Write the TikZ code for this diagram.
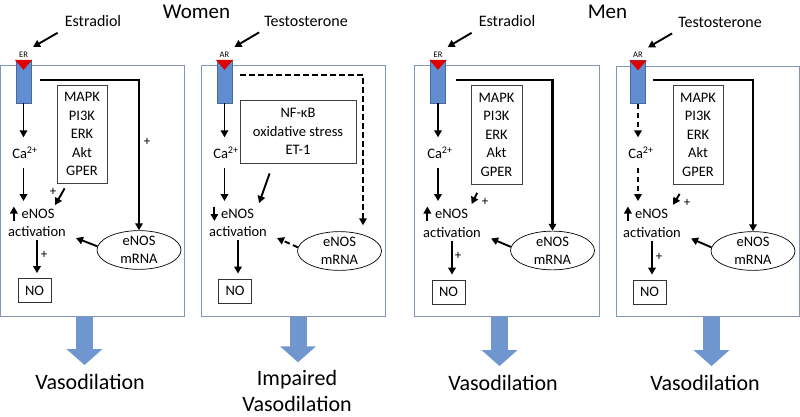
\documentclass[tikz,border=0pt]{standalone}
\usepackage{fontspec}
\setmainfont{Carlito}
\usetikzlibrary{arrows.meta,positioning,calc,shapes.geometric}

\definecolor{panelline}{RGB}{130,150,185}
\definecolor{arrowblue}{RGB}{112,150,208}
\definecolor{recblue}{RGB}{96,142,208}
\definecolor{recred}{RGB}{222,0,0}

\begin{document}
\begin{tikzpicture}[
    x=1pt, y=-1pt,
    panel/.style={rectangle, draw=panelline, line width=0.9pt, minimum width=184pt, minimum height=251pt, inner sep=0},
    receptor/.style={rectangle, draw=recblue!75!black, fill=recblue, line width=0.4pt, minimum width=15pt, minimum height=43pt, inner sep=0},
    txt/.style={inner sep=0, font=\fontsize{14.5}{18}\selectfont},
    hormone/.style={inner sep=0, font=\fontsize{16}{19}\selectfont},
    rname/.style={inner sep=0, font=\fontsize{8.5}{10}\selectfont},
    plus/.style={inner sep=0, font=\fontsize{13}{15}\selectfont},
    listbox/.style={rectangle, draw=black!75, line width=0.8pt, align=center, inner sep=0, font=\fontsize{14.5}{18.5}\selectfont},
    nobox/.style={rectangle, draw=black!80, line width=0.8pt, minimum width=33pt, minimum height=24pt, inner sep=0, font=\fontsize{14.5}{18}\selectfont},
    mrna/.style={ellipse, draw, line width=0.7pt, minimum width=84pt, minimum height=36pt, inner sep=0, align=center, font=\fontsize{14.5}{18}\selectfont},
    title/.style={inner sep=0, font=\fontsize{21}{24}\selectfont},
    result/.style={inner sep=0, align=center, font=\fontsize{22}{25.5}\selectfont},
    arrow/.style={line width=1.9pt, -{Triangle[length=7pt,width=7.5pt]}},
    dasharrow/.style={arrow, dash pattern=on 5.5pt off 3.5pt},
    pathline/.style={line width=2.3pt},
    bigarrow/.style={draw=arrowblue, line width=17pt, -{Triangle[length=16pt,width=35pt]}}
]
\useasboundingbox (0,0) rectangle (800,417);

% Titles
\node[title] (women) at (196.5,12) {Women};
\node[title] (men) at (607.5,12) {Men};

% Women - Estradiol
\node[panel] (w1box) at (92,190.5) {};
\node[receptor] (w1rec) at (23.5,81.5) {};
\fill[recred] ($(w1rec.north west)+(-1,0)$) -- ($(w1rec.north east)+(1,0)$) -- ($(w1rec.north)+(0,10)$) -- cycle;
\node[rname, above=2.5pt of w1rec] (w1er) {ER};
\node[hormone] (w1horm) at (93,21) {Estradiol};
\draw[arrow] ($(w1horm.south west)+(-7,6)$) -- ($(w1er.north east)+(5,-4.5)$);

\node[listbox, minimum width=50pt, minimum height=98pt] (w1mapk) at (82,134) {MAPK\\PI3K\\ERK\\Akt\\GPER};
\node[txt, inner ysep=9pt] (w1ca) at (25,152.5) {Ca\textsuperscript{2+}};
\node[txt, inner ysep=8pt] (w1enos) at (38,214) {eNOS};
\node[txt] (w1act) at (37,232) {activation};
\node[nobox] (w1no) at (34.5,290.5) {NO};
\node[mrna] (w1mrna) at (139,250) {eNOS\\mRNA};

\draw[arrow] (w1rec.south) -- (w1ca.north -| w1rec.south);
\draw[arrow] (w1ca.south -| w1rec.south) -- (w1enos.north -| w1rec.south);
\draw[arrow] ($(w1enos.west)+(-7.5,6.5)$) -- ++(0,-14);
\draw[arrow] ($(w1mapk.south west)+(8,5)$) -- ($(w1enos.north east)+(0.5,4)$);
\node[plus] (w1p2) at (53,192) {+};
\draw[arrow, shorten <=3pt, shorten >=5pt] (w1act.south) -- (w1no.north -| w1act.south);
\node[plus] (w1p3) at (44,255) {+};
\draw[arrow] (w1mrna.175) -- ($(w1act.east)+(10,6)$);
\draw[arrow, pathline] ($(w1rec.east)+(9,-1.5)$) -| (w1mrna.north);
\node[plus] (w1p1) at (147,142) {+};

\node[result] (w1res) at (90,382) {Vasodilation};
\coordinate (w1out) at (84.5,317);
\draw[bigarrow, shorten >=9pt] (w1out) -- (w1out |- w1res.north);

% Women - Testosterone
\node[panel] (w2box) at (293.5,190.5) {};
\node[receptor] (w2rec) at (224.5,81.5) {};
\fill[recred] ($(w2rec.north west)+(-1,0)$) -- ($(w2rec.north east)+(1,0)$) -- ($(w2rec.north)+(0,10)$) -- cycle;
\node[rname, above=2.5pt of w2rec] (w2ar) {AR};
\node[hormone] (w2horm) at (306,21) {Testosterone};
\draw[arrow] ($(w2horm.south west)+(-5,6)$) -- ($(w2ar.north east)+(5,-4.5)$);

\node[listbox, minimum width=116pt, minimum height=63pt] (w2nf) at (298,131.5) {NF-κB\\oxidative stress\\ET-1};
\node[txt, inner ysep=9pt] (w2ca) at (226,152.5) {Ca\textsuperscript{2+}};
\node[txt, inner ysep=8pt] (w2enos) at (237.5,214) {eNOS};
\node[txt] (w2act) at (238,232) {activation};
\node[nobox] (w2no) at (235,291) {NO};
\node[mrna] (w2mrna) at (339.5,251) {eNOS\\mRNA};

\draw[arrow] (w2rec.south) -- (w2ca.north -| w2rec.south);
\draw[arrow] (w2ca.south -| w2rec.south) -- (w2enos.north -| w2rec.south);
\draw[arrow] ($(w2enos.west)+(-6.5,-7)$) -- ++(0,14);
\draw[arrow] ($(w2nf.south west)+(30,10)$) -- ($(w2enos.north east)+(5,2)$);
\draw[arrow, shorten <=3pt, shorten >=5pt] (w2act.south) -- (w2no.north -| w2act.south);
\draw[dasharrow] (w2mrna.175) -- ($(w2act.east)+(10,6)$);
\draw[dasharrow, pathline] ($(w2rec.east)+(8,-6.5)$) -| ($(w2mrna.north)+(23.5,-6)$);

\node[result] (w2res) at (297,391) {Impaired\\Vasodilation};
\coordinate (w2out) at (298,317);
\draw[bigarrow, shorten >=8pt] (w2out) -- (w2out |- w2res.north);

% Men - Estradiol
\node[panel, minimum width=185pt] (m1box) at (506.5,190.5) {};
\node[receptor] (m1rec) at (438,81.5) {};
\fill[recred] ($(m1rec.north west)+(-1,0)$) -- ($(m1rec.north east)+(1,0)$) -- ($(m1rec.north)+(0,10)$) -- cycle;
\node[rname, above=2.5pt of m1rec] (m1er) {ER};
\node[hormone] (m1horm) at (507,21) {Estradiol};
\draw[arrow] ($(m1horm.south west)+(-7,6)$) -- ($(m1er.north east)+(5,-4.5)$);

\node[listbox, minimum width=51pt, minimum height=99pt] (m1mapk) at (496.5,134.5) {MAPK\\PI3K\\ERK\\Akt\\GPER};
\node[txt, inner ysep=9pt] (m1ca) at (440,152.5) {Ca\textsuperscript{2+}};
\node[txt, inner ysep=8pt] (m1enos) at (451.5,214) {eNOS};
\node[txt] (m1act) at (452,232.5) {activation};
\node[nobox] (m1no) at (448.5,292) {NO};
\node[mrna] (m1mrna) at (552.5,250.5) {eNOS\\mRNA};

\draw[arrow] (m1rec.south) -- (m1ca.north -| m1rec.south);
\draw[arrow] (m1ca.south -| m1rec.south) -- (m1enos.north -| m1rec.south);
\draw[arrow] ($(m1enos.west)+(-7.5,6.5)$) -- ++(0,-14);
\draw[arrow] ($(m1mapk.south west)+(6.5,8.5)$) -- ($(m1enos.north east)+(3.5,3)$);
\node[plus] (m1p2) at (485,202) {+};
\draw[arrow, shorten <=3pt, shorten >=5pt] (m1act.south) -- (m1no.north -| m1act.south);
\node[plus] (m1p3) at (458,256) {+};
\draw[arrow] (m1mrna.175) -- ($(m1act.east)+(10,6)$);
\draw[arrow, pathline] ($(m1rec.east)+(10,-1.5)$) -| (m1mrna.north);

\node[result] (m1res) at (503,383) {Vasodilation};
\coordinate (m1out) at (499.5,317);
\draw[bigarrow, shorten >=9pt] (m1out) -- (m1out |- m1res.north);

% Men - Testosterone
\node[panel, minimum width=183pt, minimum height=250pt] (m2box) at (707.5,191) {};
\node[receptor] (m2rec) at (638,82) {};
\fill[recred] ($(m2rec.north west)+(-1,0)$) -- ($(m2rec.north east)+(1,0)$) -- ($(m2rec.north)+(0,10)$) -- cycle;
\node[rname, above=2.5pt of m2rec] (m2ar) {AR};
\node[hormone] (m2horm) at (720,22) {Testosterone};
\draw[arrow] ($(m2horm.south west)+(-6,6)$) -- ($(m2ar.north east)+(5,-4.5)$);

\node[listbox, minimum width=50pt, minimum height=99pt] (m2mapk) at (698,134.5) {MAPK\\PI3K\\ERK\\Akt\\GPER};
\node[txt, inner ysep=9pt] (m2ca) at (641,152.5) {Ca\textsuperscript{2+}};
\node[txt, inner ysep=8pt] (m2enos) at (651.5,214) {eNOS};
\node[txt] (m2act) at (652,232.5) {activation};
\node[nobox] (m2no) at (649.5,292) {NO};
\node[mrna] (m2mrna) at (753,251) {eNOS\\mRNA};

\draw[dasharrow] (m2rec.south) -- (m2ca.north -| m2rec.south);
\draw[dasharrow] (m2ca.south -| m2rec.south) -- (m2enos.north -| m2rec.south);
\draw[arrow] ($(m2enos.west)+(-7,6.5)$) -- ++(0,-14);
\draw[arrow] ($(m2mapk.south west)+(7,9.5)$) -- ($(m2enos.north east)+(5,3.7)$);
\node[plus] (m2p2) at (687,203) {+};
\draw[arrow, shorten <=3pt, shorten >=5pt] (m2act.south) -- (m2no.north -| m2act.south);
\node[plus] (m2p3) at (659,257) {+};
\draw[arrow] (m2mrna.175) -- ($(m2act.east)+(10,6)$);
\draw[arrow, pathline] ($(m2rec.east)+(7,-2)$) -| (m2mrna.north);

\node[result] (m2res) at (705,383) {Vasodilation};
\coordinate (m2out) at (711.5,317);
\draw[bigarrow, shorten >=9pt] (m2out) -- (m2out |- m2res.north);

\end{tikzpicture}
\end{document}
